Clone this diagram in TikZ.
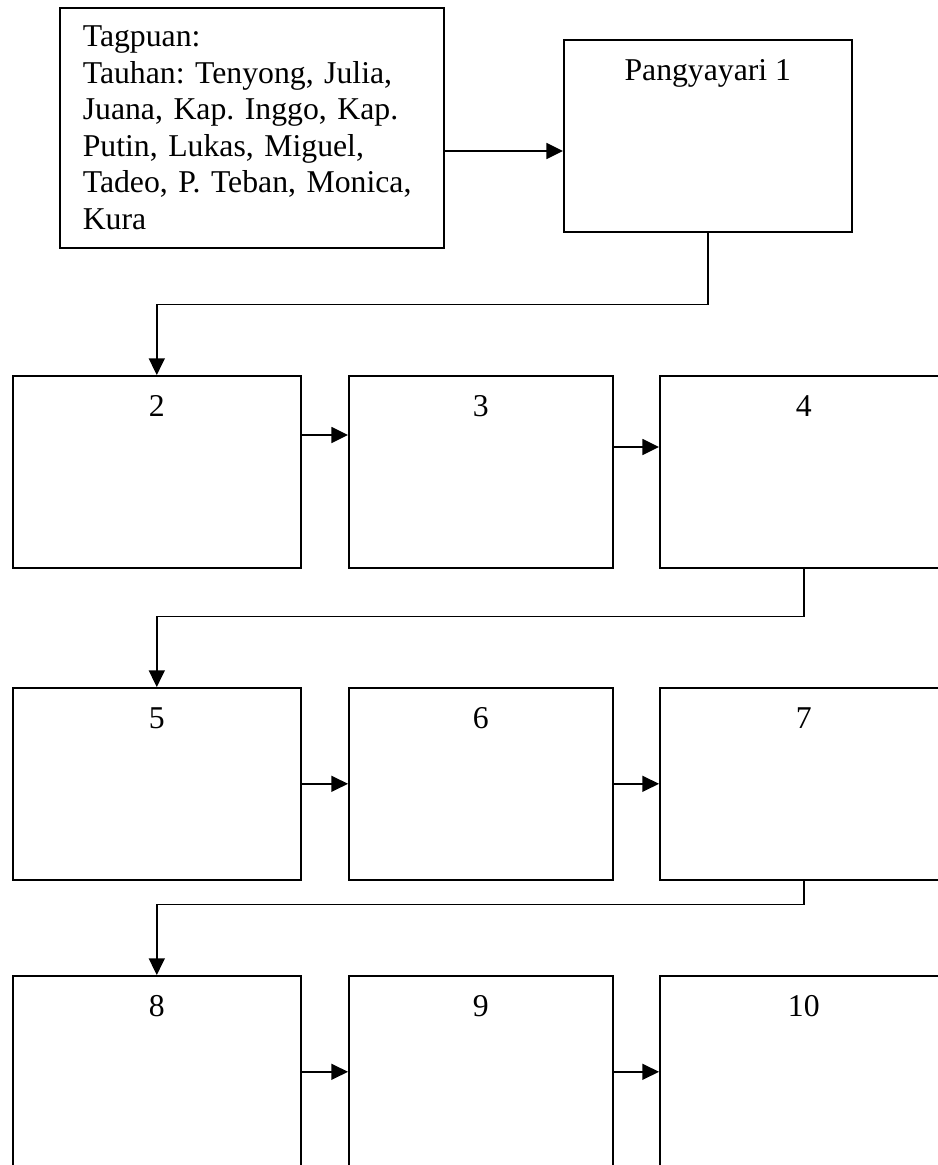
\documentclass[tikz,border=0pt]{standalone}
\usepackage{fontspec}
\setmainfont{Liberation Serif}
\usepackage{tikz}
\usetikzlibrary{positioning, arrows.meta, calc}
\frenchspacing

\begin{document}
\begin{tikzpicture}[
  x=0.75pt, y=-0.75pt,
  box/.style={draw, line width=1.2pt, anchor=north west, minimum width=216pt,
              minimum height=144pt, inner sep=0pt},
  num/.style={anchor=base, yshift=-30.75pt},
  txt/.style={font=\fontsize{23.8pt}{27.45pt}\selectfont},
  arr/.style={-{Triangle[length=12.5pt, width=12pt]}, line width=1.2pt},
  every label/.style={txt}
]
  \useasboundingbox (0,0) rectangle (938,1165);
  \clip (0,0) rectangle (938,1165);

  % Nodes
  \node[box, txt, minimum width=288pt, minimum height=180pt, text width=253.5pt,
        inner xsep=17.25pt, align=left] (setting) at (59,7)
    {Tagpuan:\\Tauhan: Tenyong, Julia,\\Juana, Kap. Inggo, Kap.\\Putin, Lukas, Miguel,\\Tadeo, P. Teban, Monica,\\Kura};
  \node[box, label={[num]north:Pangyayari 1}] (p1) at (563,39) {};

  \node[box, label={[num]north:2}] (b2) at (12,375) {};
  \node[box, minimum width=198pt, label={[num]north:3}] (b3) at (348,375) {};
  \node[box, label={[num]north:4}] (b4) at (659,375) {};

  \node[box, label={[num]north:5}] (b5) at (12,687) {};
  \node[box, minimum width=198pt, label={[num]north:6}] (b6) at (348,687) {};
  \node[box, label={[num]north:7}] (b7) at (659,687) {};

  \node[box, label={[num]north:8}] (b8) at (12,975) {};
  \node[box, minimum width=198pt, label={[num]north:9}] (b9) at (348,975) {};
  \node[box, label={[num]north:10}] (b10) at (659,975) {};

  % Edges
  \coordinate (p1in) at ([yshift=-84pt]p1.north west);
  \draw[arr] (setting.east |- p1in) -- (p1in);
  \draw[arr] (p1.south) -- ++(0,-54pt) -| (b2.north);

  \draw[arr] ([yshift=-45pt]b2.north east) -- ([yshift=-45pt]b3.north west);
  \draw[arr] ([yshift=-54pt]b3.north east) -- ([yshift=-54pt]b4.north west);
  \draw[arr] (b4.south) -- ++(0,-36pt) -| (b5.north);

  \draw[arr] (b5.east) -- (b6.west);
  \draw[arr] (b6.east) -- (b7.west);
  \draw[arr] (b7.south) -- ++(0,-18pt) -| (b8.north);

  \draw[arr] (b8.east) -- (b9.west);
  \draw[arr] (b9.east) -- (b10.west);
\end{tikzpicture}
\end{document}
